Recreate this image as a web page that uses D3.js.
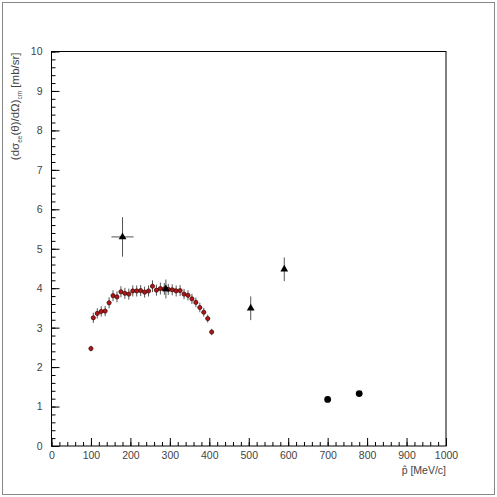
<!DOCTYPE html>
<html>
<head>
<meta charset="utf-8">
<script src="https://cdn.jsdelivr.net/npm/d3@7.8.5/dist/d3.min.js"></script>
<style>
  body { margin: 0; background: #fff; }
  svg { display: block; font-family: "Liberation Sans", Arial, sans-serif; }
  .axis text { fill: #444; font-size: 10.5px; }
  .axis path, .axis line { stroke: #000; }
</style>
</head>
<body>
<div id="chart"></div>
<script>
// red points: measured data
const redP = [100, 106, 116, 126, 136, 146, 156, 166, 176, 186, 196, 206, 216, 226, 236, 246,
              256, 266, 276, 286, 296, 306, 316, 326, 336, 346, 356, 366, 376, 386, 396, 406];
const redY = [2.47, 3.25, 3.36, 3.41, 3.42, 3.63, 3.81, 3.78, 3.91, 3.87, 3.85, 3.93, 3.93, 3.94, 3.90, 3.93,
              4.05, 3.95, 3.99, 3.98, 3.97, 3.96, 3.93, 3.94, 3.85, 3.82, 3.73, 3.64, 3.51, 3.39, 3.23, 2.89];
const redEy = [0.07, 0.13, 0.13, 0.13, 0.13, 0.14, 0.14, 0.14, 0.14, 0.14, 0.14, 0.14, 0.14, 0.14, 0.14, 0.14,
               0.15, 0.14, 0.15, 0.15, 0.14, 0.14, 0.14, 0.14, 0.13, 0.13, 0.13, 0.12, 0.12, 0.11, 0.1, 0.08];
const redEx = 5;

// black triangles
const triP = [180, 290, 505, 590];
const triY = [5.3, 3.98, 3.49, 4.48];
const triEy = [0.5, 0.24, 0.3, 0.3];
const triEx = [28, 25, 4, 4];

// black circles
const circP = [700, 780];
const circY = [1.18, 1.33];

const xTicks = d3.range(0, 1001, 100);
const yTicks = d3.range(0, 11, 1);

const W = 497, H = 497;
const margin = { top: 51.5, right: 51, bottom: 51, left: 51.5 };

const svg = d3.select('#chart').append('svg')
    .attr('width', W)
    .attr('height', H);

// canvas border
svg.append('rect')
    .attr('x', 2.5).attr('y', 2.5)
    .attr('width', W - 5).attr('height', H - 5)
    .attr('fill', 'none')
    .attr('stroke', '#888');

const x = d3.scaleLinear().domain([0, 1000]).range([margin.left, W - margin.right]);
const y = d3.scaleLinear().domain([0, 10]).range([H - margin.bottom, margin.top]);

// frame
svg.append('rect')
    .attr('x', x(0)).attr('y', y(10))
    .attr('width', x(1000) - x(0)).attr('height', y(0) - y(10))
    .attr('fill', 'none')
    .attr('stroke', '#000');

// minor ticks
svg.append('g')
    .attr('class', 'axis')
    .attr('transform', `translate(0,${y(0)})`)
    .call(d3.axisBottom(x).tickValues(d3.range(0, 1001, 20)).tickSizeInner(-4).tickSizeOuter(0).tickFormat(''))
    .call(g => g.select('.domain').remove());
svg.append('g')
    .attr('class', 'axis')
    .attr('transform', `translate(${x(0)},0)`)
    .call(d3.axisLeft(y).tickValues(d3.range(0, 10.01, 0.2)).tickSizeInner(-4).tickSizeOuter(0).tickFormat(''))
    .call(g => g.select('.domain').remove());

// major ticks with labels
svg.append('g')
    .attr('class', 'axis')
    .attr('transform', `translate(0,${y(0)})`)
    .call(d3.axisBottom(x).tickValues(xTicks).tickFormat(d3.format('d')).tickSizeInner(-8).tickSizeOuter(0).tickPadding(6))
    .call(g => g.select('.domain').remove());
svg.append('g')
    .attr('class', 'axis')
    .attr('transform', `translate(${x(0)},0)`)
    .call(d3.axisLeft(y).tickValues(yTicks).tickFormat(d3.format('d')).tickSizeInner(-8).tickSizeOuter(0).tickPadding(9))
    .call(g => g.select('.domain').remove());

svg.selectAll('.axis text').attr('font-family', null).attr('font-size', null);

// axis titles
svg.append('text')
    .attr('x', x(1000))
    .attr('y', 474)
    .attr('text-anchor', 'end')
    .style('fill', '#444')
    .style('font-size', '10.5px')
    .text('p\u0302 [MeV/c]');

const yt = svg.append('text')
    .attr('transform', `translate(19,${y(10) + 1}) rotate(-90)`)
    .attr('text-anchor', 'end')
    .style('fill', '#444')
    .style('font-size', '11.5px');
yt.append('tspan').text('(d\u03c3');
yt.append('tspan').attr('dy', 3).style('font-size', '6.5px').text('ee');
yt.append('tspan').attr('dy', -3).text('(\u03b8)/d\u03a9)');
yt.append('tspan').attr('dy', 3).style('font-size', '6.5px').text('cm');
yt.append('tspan').attr('dy', -3).text(' [mb/sr]');

const red = redP.map((p, i) => ({ p: p, v: redY[i], ey: redEy[i], ex: redEx }));
const tri = triP.map((p, i) => ({ p: p, v: triY[i], ey: triEy[i], ex: triEx[i] }));
const circ = circP.map((p, i) => ({ p: p, v: circY[i] }));

function errorBars(data, color) {
    const g = svg.append('g').attr('stroke', color).attr('stroke-width', 1);
    g.selectAll('.ey').data(data).enter().append('line')
        .attr('x1', d => x(d.p)).attr('x2', d => x(d.p))
        .attr('y1', d => y(d.v - d.ey)).attr('y2', d => y(d.v + d.ey));
    g.selectAll('.ex').data(data).enter().append('line')
        .attr('x1', d => x(d.p - d.ex)).attr('x2', d => x(d.p + d.ex))
        .attr('y1', d => y(d.v)).attr('y2', d => y(d.v));
}

errorBars(red, '#555');
errorBars(tri, '#555');

svg.append('g').selectAll('circle').data(red).enter().append('circle')
    .attr('cx', d => x(d.p))
    .attr('cy', d => y(d.v))
    .attr('r', 2.1)
    .attr('fill', '#b01818')
    .attr('stroke', '#3a0000')
    .attr('stroke-width', 0.7);

svg.append('g').selectAll('path').data(tri).enter().append('path')
    .attr('transform', d => `translate(${x(d.p)},${y(d.v)})`)
    .attr('d', d3.symbol(d3.symbolTriangle, 26))
    .attr('fill', '#000');

svg.append('g').selectAll('circle').data(circ).enter().append('circle')
    .attr('cx', d => x(d.p))
    .attr('cy', d => y(d.v))
    .attr('r', 3.4)
    .attr('fill', '#000');
</script>
</body>
</html>
